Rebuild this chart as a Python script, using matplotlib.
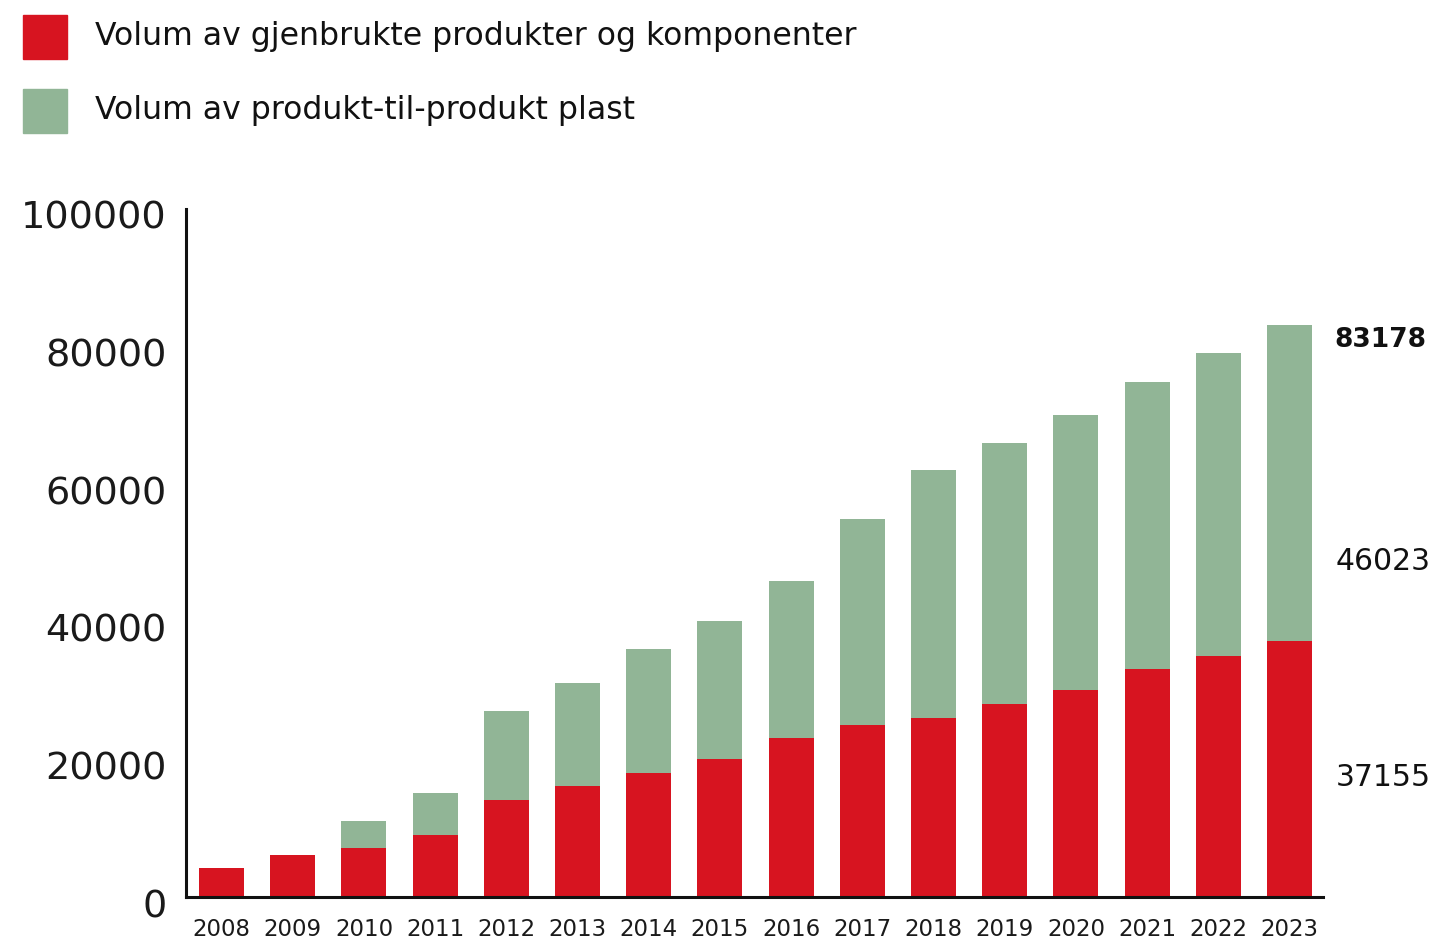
import matplotlib
matplotlib.use('Agg')
import matplotlib.pyplot as plt
import matplotlib.transforms as mtransforms
from matplotlib.patches import Rectangle

years = ['2008', '2009', '2010', '2011', '2012', '2013', '2014', '2015',
         '2016', '2017', '2018', '2019', '2020', '2021', '2022', '2023']
# Reused products and components (red)
reused = [4200, 6100, 7100, 9000, 14100, 16100, 18000, 20000,
          23100, 25000, 26000, 28000, 30050, 33100, 35000, 37155]
# Product-to-product plastic (green), stacked on top
totals = [4200, 6100, 11000, 15100, 27000, 31050, 36000, 40050,
          46000, 55000, 62000, 66050, 70000, 74900, 79000, 83178]
plastic = [t - r for t, r in zip(totals, reused)]

legend_labels = ['Volum av gjenbrukte produkter og komponenter',
                 'Volum av produkt-til-produkt plast']
yticks = [0, 20000, 40000, 60000, 80000, 100000]

red = '#D71420'
green = '#91B596'

plt.rcParams['font.family'] = ['DejaVu Sans']

fig = plt.figure(figsize=(14.32, 9.41), dpi=100)
ax = fig.add_axes([186 / 1432, 44 / 941, 1137 / 1432, 688 / 941])

x = list(range(len(years)))
ax.bar(x, reused, width=0.632, color=red, zorder=2)
ax.bar(x, plastic, width=0.632, bottom=reused, color=green, zorder=2)

ax.set_xlim(-0.5, 15.47)
ax.set_ylim(0, 100000)

ax.set_xticks(x)
ax.set_xticklabels(years, fontsize=16.5, color='#1a1a1a')
ax.set_yticks(yticks)
ax.set_yticklabels([str(v) for v in yticks], fontsize=27.5, color='#1a1a1a')
ax.tick_params(axis='x', length=0, pad=15)
ax.tick_params(axis='y', length=0, pad=14)
# nudge y labels down a little like the original
offset = mtransforms.ScaledTranslation(0, -6 / 100, fig.dpi_scale_trans)
for lab in ax.get_yticklabels():
    lab.set_transform(lab.get_transform() + offset)

for side in ['top', 'right']:
    ax.spines[side].set_visible(False)
for side in ['left', 'bottom']:
    ax.spines[side].set_linewidth(2.2)
    ax.spines[side].set_color('#111111')

# Labels for the last bar
last = len(years) - 1
tr = mtransforms.blended_transform_factory(ax.transAxes, ax.transData)
ax.text(1.01, 81000, str(totals[last]), transform=tr, fontsize=19,
        fontweight='bold', va='center', ha='left', color='#111111')
ax.text(1.011, 48800, str(plastic[last]), transform=tr, fontsize=21.5,
        va='center', ha='left', color='#111111')
ax.text(1.011, 17400, str(reused[last]), transform=tr, fontsize=21.5,
        va='center', ha='left', color='#111111')

# Legend drawn by hand at top-left
for i, (lab, col) in enumerate(zip(legend_labels, [red, green])):
    y0 = 941 - 59 - i * 74
    fig.patches.append(Rectangle((23 / 1432, y0 / 941), 44 / 1432, 44 / 941,
                                 transform=fig.transFigure, color=col))
    fig.text(95 / 1432, (y0 + 22) / 941, lab, fontsize=22.7, va='center',
             ha='left', color='#111111')

fig.savefig('out.png', dpi=100)
